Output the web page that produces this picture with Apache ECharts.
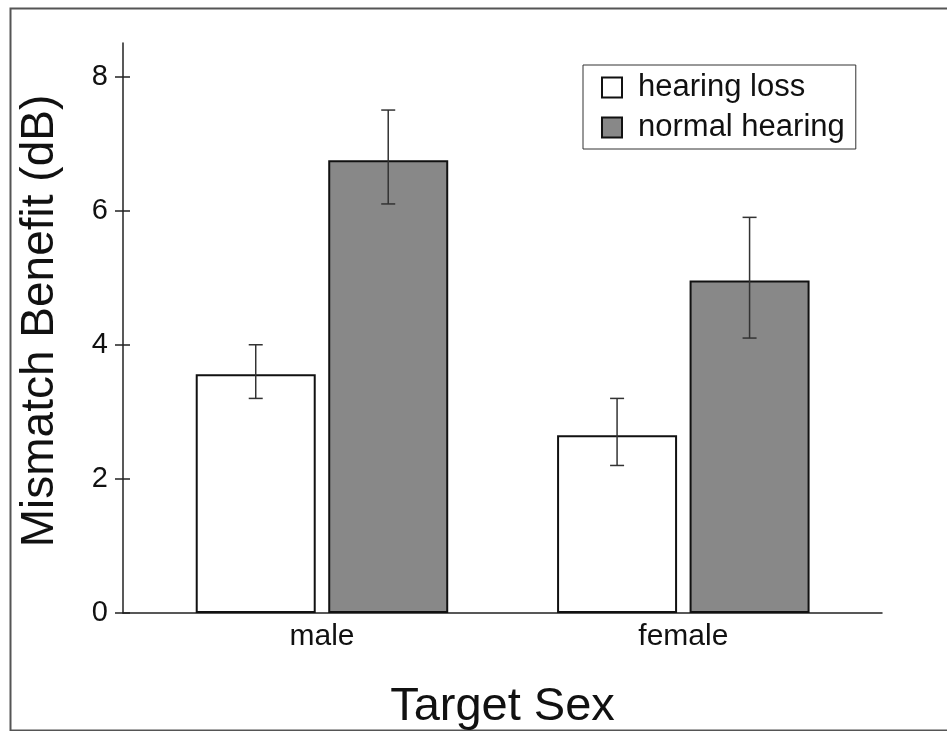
<!DOCTYPE html>
<html>
<head>
<meta charset="utf-8">
<script src="https://cdn.jsdelivr.net/npm/echarts@6/dist/echarts.min.js"></script>
<style>
  html, body { margin: 0; padding: 0; background: #fff; }
  #chart { width: 947px; height: 731px; }
</style>
</head>
<body>
<div id="chart"></div>
<script>
// ---- data ----
const categories = ['male', 'female'];
const seriesNames = ['hearing loss', 'normal hearing'];
const hearingLoss = [3.56, 2.65];
const normalHearing = [6.75, 4.96];
const hearingLossLow = [3.2, 2.2];
const hearingLossHigh = [4.0, 3.2];
const normalHearingLow = [6.1, 4.1];
const normalHearingHigh = [7.5, 5.9];
const yTicks = [0, 2, 4, 6, 8];

// ---- styles ----
const FONT = "'Liberation Sans', Arial, sans-serif";
const BAR_W = 120;
const GAP = 12.5;
const Y_MAX = 8.5;

const errData = [];
categories.forEach((c, i) => {
  errData.push([i, hearingLossLow[i], hearingLossHigh[i], 0]);
  errData.push([i, normalHearingLow[i], normalHearingHigh[i], 1]);
});

const chart = echarts.init(document.getElementById('chart'), null, { renderer: 'canvas' });

const option = {
  backgroundColor: '#fff',
  animation: false,
  textStyle: { fontFamily: FONT },
  graphic: [{
    type: 'rect',
    left: 8, top: 6,
    shape: { width: 960, height: 722 },
    style: { fill: null, stroke: '#555', lineWidth: 2 },
    silent: true, z: -10
  }],
  grid: [
    { left: 123, right: 65, top: 43, bottom: 118, containLabel: false, outerBoundsMode: 'none' },
    { left: 141.3, right: 83, top: 43, bottom: 118, containLabel: false, outerBoundsMode: 'none' }
  ],
  legend: {
    orient: 'vertical',
    left: 583, top: 65,
    padding: [7, 11, 6, 18],
    borderColor: '#333', borderWidth: 1,
    itemWidth: 20, itemHeight: 20, itemGap: 9,
    icon: 'rect',
    data: seriesNames,
    textStyle: { fontSize: 31, color: '#111', fontFamily: FONT, padding: [0, 0, 0, 11] }
  },
  xAxis: [
    {
      gridIndex: 0, type: 'value', min: 0, max: 1,
      axisLine: { show: true, lineStyle: { color: '#222', width: 1.5 } },
      axisTick: { show: false }, axisLabel: { show: false }, splitLine: { show: false },
      name: 'Target Sex', nameLocation: 'middle', nameGap: 71,
      nameTextStyle: { fontSize: 47, color: '#111', fontFamily: FONT }
    },
    {
      gridIndex: 1, type: 'category', data: categories,
      axisLine: { show: false }, axisTick: { show: false },
      axisLabel: { fontSize: 30, color: '#111', margin: 9, fontFamily: FONT }
    }
  ],
  yAxis: [
    {
      gridIndex: 0, type: 'value', min: 0, max: Y_MAX, position: 'left',
      axisLine: { show: true, lineStyle: { color: '#222', width: 1.5 } },
      axisTick: { show: true, length: 8, customValues: yTicks, lineStyle: { color: '#222', width: 1.5 } },
      axisLabel: { customValues: yTicks, fontSize: 29, color: '#111', margin: 15, fontFamily: FONT },
      splitLine: { show: false },
      name: 'Mismatch Benefit (dB)', nameLocation: 'middle', nameGap: 60,
      nameTextStyle: { fontSize: 46, color: '#111', fontFamily: FONT, padding: [0, 0, 0, 14] }
    },
    {
      gridIndex: 1, type: 'value', min: 0, max: Y_MAX, show: false
    },
    {
      gridIndex: 0, type: 'value', min: 0, max: Y_MAX, position: 'left', offset: 0,
      axisLine: { show: false },
      axisTick: { show: true, inside: true, length: 7, customValues: yTicks, lineStyle: { color: '#222', width: 1.5 } },
      axisLabel: { show: false }, splitLine: { show: false }
    }
  ],
  series: [
    {
      name: seriesNames[0], type: 'bar', xAxisIndex: 1, yAxisIndex: 1,
      data: hearingLoss, barWidth: BAR_W, barGap: (GAP / BAR_W * 100) + '%',
      itemStyle: { color: '#ffffff', borderColor: '#111', borderWidth: 2 }
    },
    {
      name: seriesNames[1], type: 'bar', xAxisIndex: 1, yAxisIndex: 1,
      data: normalHearing, barWidth: BAR_W,
      itemStyle: { color: '#888888', borderColor: '#111', borderWidth: 2 }
    },
    {
      type: 'custom', xAxisIndex: 1, yAxisIndex: 1, z: 5,
      data: errData,
      renderItem: function (params, api) {
        const idx = api.value(0);
        const s = api.value(3);
        const off = (s === 0 ? -1 : 1) * (BAR_W + GAP) / 2;
        const lo = api.coord([idx, api.value(1)]);
        const hi = api.coord([idx, api.value(2)]);
        const x = lo[0] + off;
        const cw = 7;
        const st = { stroke: '#333', lineWidth: 1.5 };
        return {
          type: 'group',
          children: [
            { type: 'line', shape: { x1: x, y1: lo[1], x2: x, y2: hi[1] }, style: st },
            { type: 'line', shape: { x1: x - cw, y1: lo[1], x2: x + cw, y2: lo[1] }, style: st },
            { type: 'line', shape: { x1: x - cw, y1: hi[1], x2: x + cw, y2: hi[1] }, style: st }
          ]
        };
      }
    }
  ]
};
chart.setOption(option);
</script>
</body>
</html>
